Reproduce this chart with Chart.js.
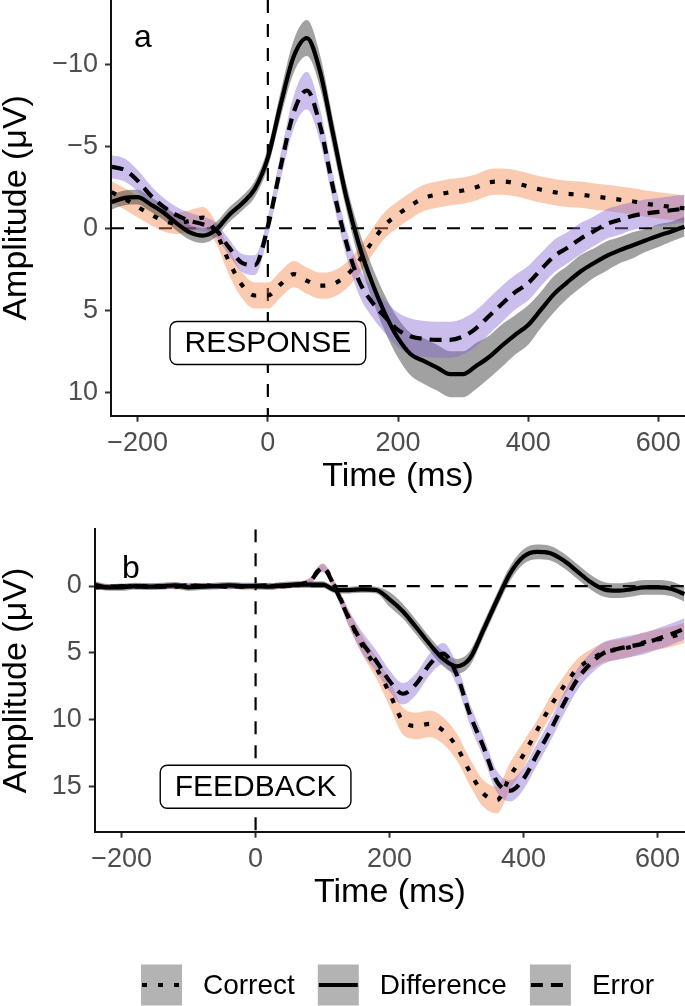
<!DOCTYPE html>
<html>
<head>
<meta charset="utf-8">
<script src="https://cdn.jsdelivr.net/npm/chart.js@4.4.1/dist/chart.umd.min.js"></script>
<style>
  html, body { margin: 0; padding: 0; background: #fff; }
  #wrap { position: relative; width: 685px; height: 1006px; overflow: hidden; }
  #wrap canvas { position: absolute; left: 0; }
</style>
</head>
<body>
<div id="wrap">
  <canvas id="chartA" width="685" height="500" style="top:0"></canvas>
  <canvas id="chartB" width="685" height="506" style="top:500px"></canvas>
</div>
<script>
// time points (ms), shared by both panels
const times = [-240,-220,-200,-180,-160,-140,-120,-100,-80,-60,-40,-20,0,20,40,60,80,100,120,140,160,180,200,220,240,260,280,300,320,340,360,380,400,420,440,460,480,500,520,540,560,580,600,620,640];

const seriesNames = ["Correct", "Difference", "Error"];
const xTicks = [-200, 0, 200, 400, 600];
const respYTicks = [-10, -5, 0, 5, 10];
const fbYTicks = [0, 5, 10, 15];

// panel a: response-locked
const respCorrect = [-2.2,-1.8,-1.3,-0.85,-0.45,-0.3,-0.45,-0.65,0.25,2.0,3.45,4.1,4.1,3.4,2.8,3.2,3.5,3.4,2.9,2.0,0.85,-0.2,-0.85,-1.4,-1.85,-2.05,-2.2,-2.3,-2.5,-2.8,-2.85,-2.75,-2.55,-2.35,-2.2,-2.1,-2.05,-1.95,-1.85,-1.75,-1.65,-1.5,-1.4,-1.3,-1.22];
const respCorrectSe = [0.65,0.65,0.65,0.65,0.65,0.65,0.65,0.65,0.65,0.8,0.8,0.8,0.8,0.8,0.8,0.8,0.8,0.8,0.8,0.8,0.8,0.8,0.8,0.8,0.8,0.8,0.8,0.8,0.8,0.8,0.8,0.8,0.8,0.8,0.8,0.8,0.8,0.8,0.8,0.8,0.8,0.8,0.8,0.8,0.8];
const respDifference = [-1.6,-1.85,-1.9,-1.45,-0.95,-0.3,0.25,0.45,0.1,-0.8,-1.5,-2.4,-4.3,-7.6,-10.5,-11.6,-9.6,-5.8,-2.0,1.0,3.3,5.2,6.7,7.7,8.1,8.5,8.9,8.9,8.4,7.85,7.15,6.5,5.9,4.95,4.0,3.3,2.65,2.15,1.7,1.35,1.05,0.75,0.45,0.2,-0.1];
const respDifferenceSe = [0.45,0.45,0.45,0.45,0.45,0.45,0.45,0.45,0.45,0.45,0.45,0.5,0.6,0.8,1.0,1.1,1.0,0.9,0.8,0.9,1.0,1.1,1.2,1.3,1.4,1.4,1.4,1.4,1.4,1.3,1.3,1.2,1.2,1.1,1.1,1.0,1.0,0.9,0.9,0.8,0.8,0.7,0.7,0.6,0.6];
const respError = [-3.75,-3.55,-2.9,-2.0,-1.3,-0.8,-0.45,-0.25,0.1,1.15,2.1,2.25,-0.1,-3.8,-7.1,-8.4,-6.3,-2.5,0.8,3.2,4.5,5.4,6.2,6.6,6.75,6.8,6.8,6.6,6.1,5.35,4.6,3.9,3.35,2.5,1.7,1.2,0.65,0.2,-0.25,-0.5,-0.75,-0.9,-1.0,-1.1,-1.2];
const respErrorSe = [0.7,0.7,0.65,0.6,0.55,0.5,0.5,0.45,0.45,0.5,0.55,0.6,0.6,0.8,1.0,1.15,1.0,0.85,0.8,0.85,0.9,1.0,1.05,1.1,1.1,1.1,1.1,1.1,1.1,1.1,1.1,1.05,1.05,1.0,1.0,0.95,0.95,0.9,0.9,0.9,0.85,0.85,0.85,0.85,0.85];

// panel b: feedback-locked
const fbCorrect = [0.1,0.05,0.05,0.0,0.05,0.0,0.05,0.0,-0.05,0.0,0.0,0.05,0.0,0.0,0.0,-0.1,-0.35,-1.4,0.2,2.5,4.5,6.1,8.0,10.1,10.45,10.3,10.8,12.0,13.9,15.5,16.0,14.2,12.6,10.8,9.0,7.5,6.2,5.5,4.95,4.75,4.55,4.2,4.0,3.8,3.5];
const fbCorrectSe = [0.2,0.2,0.2,0.2,0.2,0.2,0.2,0.2,0.2,0.2,0.2,0.2,0.2,0.2,0.2,0.2,0.25,0.3,0.4,0.6,0.7,0.8,1.0,1.0,1.0,1.0,1.0,1.0,1.0,1.0,1.0,1.0,1.0,0.75,0.75,0.75,0.75,0.75,0.75,0.75,0.75,0.75,0.75,0.75,0.75];
const fbDifference = [-0.1,0.1,0.1,0.0,0.05,0.0,-0.05,0.1,0.05,0.0,-0.05,0.0,0.0,0.05,-0.05,-0.1,-0.1,-0.1,0.3,0.3,0.25,0.3,1.0,1.9,3.1,4.35,5.45,6.0,5.4,3.3,1.1,-0.95,-2.2,-2.55,-2.45,-1.9,-1.1,-0.3,0.25,0.35,0.25,0.1,0.1,0.2,0.6];
const fbDifferenceSe = [0.25,0.25,0.25,0.25,0.25,0.25,0.25,0.25,0.25,0.25,0.25,0.25,0.25,0.25,0.25,0.25,0.25,0.25,0.25,0.25,0.25,0.25,0.55,0.55,0.55,0.55,0.55,0.55,0.55,0.55,0.55,0.55,0.55,0.55,0.55,0.55,0.55,0.55,0.55,0.55,0.55,0.55,0.55,0.55,0.55];
const fbError = [0.05,0.1,0.0,0.05,0.0,0.05,0.0,-0.05,0.0,0.0,0.05,0.0,0.0,-0.05,0.0,-0.1,-0.3,-1.35,0.3,2.5,4.3,5.6,7.1,8.05,7.3,5.85,5.05,6.6,9.6,12.0,14.6,15.3,14.4,12.6,10.8,8.8,7.0,5.8,5.0,4.7,4.5,4.3,3.95,3.6,3.2];
const fbErrorSe = [0.2,0.2,0.2,0.2,0.2,0.2,0.2,0.2,0.2,0.2,0.2,0.2,0.2,0.2,0.2,0.2,0.25,0.3,0.4,0.6,0.8,0.8,0.8,0.8,0.8,0.8,0.8,0.8,0.8,0.8,0.8,0.8,0.8,0.8,0.8,0.8,0.8,0.8,0.8,0.8,0.8,0.8,0.8,0.8,0.8];

// styling
const FONT = '"Liberation Sans", Arial, Helvetica, sans-serif';
const ribbonColors = ["rgba(245,130,70,0.42)", "rgba(30,30,30,0.42)", "rgba(130,100,210,0.42)"];
const lineDashes = [[5, 11], [], [12, 8]];
const LINE_W = 4.2;

function minusFmt(v) {
  return v < 0 ? "\u2212" + Math.abs(v) : String(v);
}

function roundBox(ctx, x, y, w, h, r) {
  ctx.beginPath();
  ctx.moveTo(x + r, y);
  ctx.lineTo(x + w - r, y);
  ctx.arcTo(x + w, y, x + w, y + r, r);
  ctx.lineTo(x + w, y + h - r);
  ctx.arcTo(x + w, y + h, x + w - r, y + h, r);
  ctx.lineTo(x + r, y + h);
  ctx.arcTo(x, y + h, x, y + h - r, r);
  ctx.lineTo(x, y + r);
  ctx.arcTo(x, y, x + r, y, r);
  ctx.closePath();
}

// panel letter, condition label box, and (panel b) the legend
const decor = {
  id: "decor",
  afterDatasetsDraw(chart, args, opts) {
    const ctx = chart.ctx, area = chart.chartArea;
    const xs = chart.scales.x, ys = chart.scales.y;
    ctx.save();
    ctx.fillStyle = "#000";
    ctx.font = "32px " + FONT;
    ctx.textAlign = "center";
    ctx.textBaseline = "alphabetic";
    ctx.fillText(opts.letter, area.left + opts.letterDx, area.top + opts.letterDy);

    ctx.font = "30px " + FONT;
    const tw = ctx.measureText(opts.boxText).width;
    const cx = xs.getPixelForValue(opts.boxAt[0]);
    const cy = ys.getPixelForValue(opts.boxAt[1]);
    const w = tw + 29, h = 43;
    roundBox(ctx, cx - w / 2, cy - h / 2, w, h, 7);
    ctx.fillStyle = "#fff";
    ctx.fill();
    ctx.lineWidth = 1.4;
    ctx.strokeStyle = "#000";
    ctx.stroke();
    ctx.fillStyle = "#000";
    ctx.textBaseline = "middle";
    ctx.fillText(opts.boxText, cx, cy + 1);
    ctx.restore();
  },
  afterDraw(chart, args, opts) {
    if (!opts.legend) return;
    const ctx = chart.ctx;
    const cy = opts.legendY;
    let x = opts.legendX;
    ctx.save();
    ctx.font = "28px " + FONT;
    ctx.textBaseline = "middle";
    ctx.textAlign = "left";
    seriesNames.forEach((name, i) => {
      ctx.fillStyle = "#b3b3b3";
      ctx.fillRect(x, cy - 20.5, 41, 41);
      ctx.strokeStyle = "#000";
      ctx.lineWidth = LINE_W;
      ctx.setLineDash(lineDashes[i]);
      ctx.beginPath();
      ctx.moveTo(x + 1, cy);
      ctx.lineTo(x + 40, cy);
      ctx.stroke();
      ctx.setLineDash([]);
      ctx.fillStyle = "#000";
      ctx.fillText(name, x + 62, cy + 1);
      x += 62 + ctx.measureText(name).width + 23;
    });
    ctx.restore();
  }
};

function buildDatasets(means, ses, xMin, xMax, yMin, yMax) {
  const ds = [];
  // ribbons: Error drawn on top, Correct at the bottom
  means.forEach((m, i) => {
    ds.push({
      data: times.map((t, k) => ({ x: t, y: m[k] - ses[i][k] })),
      borderWidth: 0, pointRadius: 0, fill: false,
      cubicInterpolationMode: "monotone", order: 6 - i
    });
    ds.push({
      data: times.map((t, k) => ({ x: t, y: m[k] + ses[i][k] })),
      borderWidth: 0, pointRadius: 0, fill: "-1",
      backgroundColor: ribbonColors[i],
      cubicInterpolationMode: "monotone", order: 6 - i
    });
  });
  means.forEach((m, i) => {
    ds.push({
      label: seriesNames[i],
      data: times.map((t, k) => ({ x: t, y: m[k] })),
      borderColor: "#000", borderWidth: LINE_W, borderDash: lineDashes[i],
      borderCapStyle: "butt", pointRadius: 0, fill: false,
      cubicInterpolationMode: "monotone", order: 3 - i
    });
  });
  // zero reference lines
  ds.push({
    data: [{ x: xMin, y: 0 }, { x: xMax, y: 0 }],
    borderColor: "#000", borderWidth: 2.2, borderDash: [13, 11],
    pointRadius: 0, fill: false, order: 10
  });
  ds.push({
    data: [{ x: 0, y: yMin }, { x: 0, y: yMax }],
    borderColor: "#000", borderWidth: 2.2, borderDash: [13, 11],
    pointRadius: 0, fill: false, order: 10
  });
  return ds;
}

function makeChart(id, cfg) {
  const axisBorder = { display: true, color: "#111", width: 2 };
  const tickGrid = { display: true, drawOnChartArea: false, drawTicks: true, tickLength: 6, tickColor: "#333", tickWidth: 2 };
  return new Chart(document.getElementById(id), {
    type: "line",
    data: { datasets: buildDatasets(cfg.means, cfg.ses, cfg.xMin, cfg.xMax, cfg.yMin, cfg.yMax) },
    plugins: [decor],
    options: {
      responsive: false,
      animation: false,
      events: [],
      layout: { padding: { top: cfg.padTop, bottom: cfg.padBottom, left: 0, right: 0 } },
      plugins: {
        legend: { display: false },
        tooltip: { enabled: false },
        decor: cfg.decor
      },
      scales: {
        x: {
          type: "linear", min: cfg.xMin, max: cfg.xMax,
          afterBuildTicks: s => { s.ticks = xTicks.map(v => ({ value: v })); },
          afterFit: s => { s.height = 84.3; s.paddingLeft = 0; s.paddingRight = 0; },
          ticks: { autoSkip: false, maxRotation: 0, padding: 6, color: "#4d4d4d",
                   font: { family: FONT, size: 27 }, callback: v => minusFmt(v) },
          grid: tickGrid, border: axisBorder,
          title: { display: true, text: "Time (ms)", color: "#000",
                   font: { family: FONT, size: 34, lineHeight: 1.2 }, padding: { top: 0, bottom: 3 } }
        },
        y: {
          type: "linear", reverse: true, min: cfg.yMin, max: cfg.yMax,
          afterBuildTicks: s => { s.ticks = cfg.yTicks.map(v => ({ value: v })); },
          afterFit: s => { s.width = cfg.yWidth; s.paddingTop = 0; s.paddingBottom = 0; },
          ticks: { autoSkip: false, padding: 7, color: "#4d4d4d",
                   font: { family: FONT, size: 27 }, callback: v => minusFmt(v) },
          grid: tickGrid, border: axisBorder,
          title: { display: true, text: "Amplitude (\u03bcV)", color: "#000",
                   font: { family: FONT, size: 34, lineHeight: 1.0 }, padding: { top: 0, bottom: 0 } }
        }
      }
    }
  });
}

makeChart("chartA", {
  means: [respCorrect, respDifference, respError],
  ses: [respCorrectSe, respDifferenceSe, respErrorSe],
  xMin: -241, xMax: 641, yMin: -13.92, yMax: 11.43,
  yTicks: respYTicks, yWidth: 111, padTop: 0, padBottom: 0,
  decor: { letter: "a", letterDx: 32, letterDy: 47, boxText: "RESPONSE", boxAt: [0, 7], legend: false }
});

makeChart("chartB", {
  means: [fbCorrect, fbDifference, fbError],
  ses: [fbCorrectSe, fbDifferenceSe, fbErrorSe],
  xMin: -240, xMax: 641, yMin: -4.24, yMax: 18.36,
  yTicks: fbYTicks, yWidth: 94.8, padTop: 29.3, padBottom: 90,
  decor: { letter: "b", letterDx: 36, letterDy: 49, boxText: "FEEDBACK", boxAt: [0, 15],
           legend: true, legendX: 141, legendY: 485 }
});
</script>
</body>
</html>
